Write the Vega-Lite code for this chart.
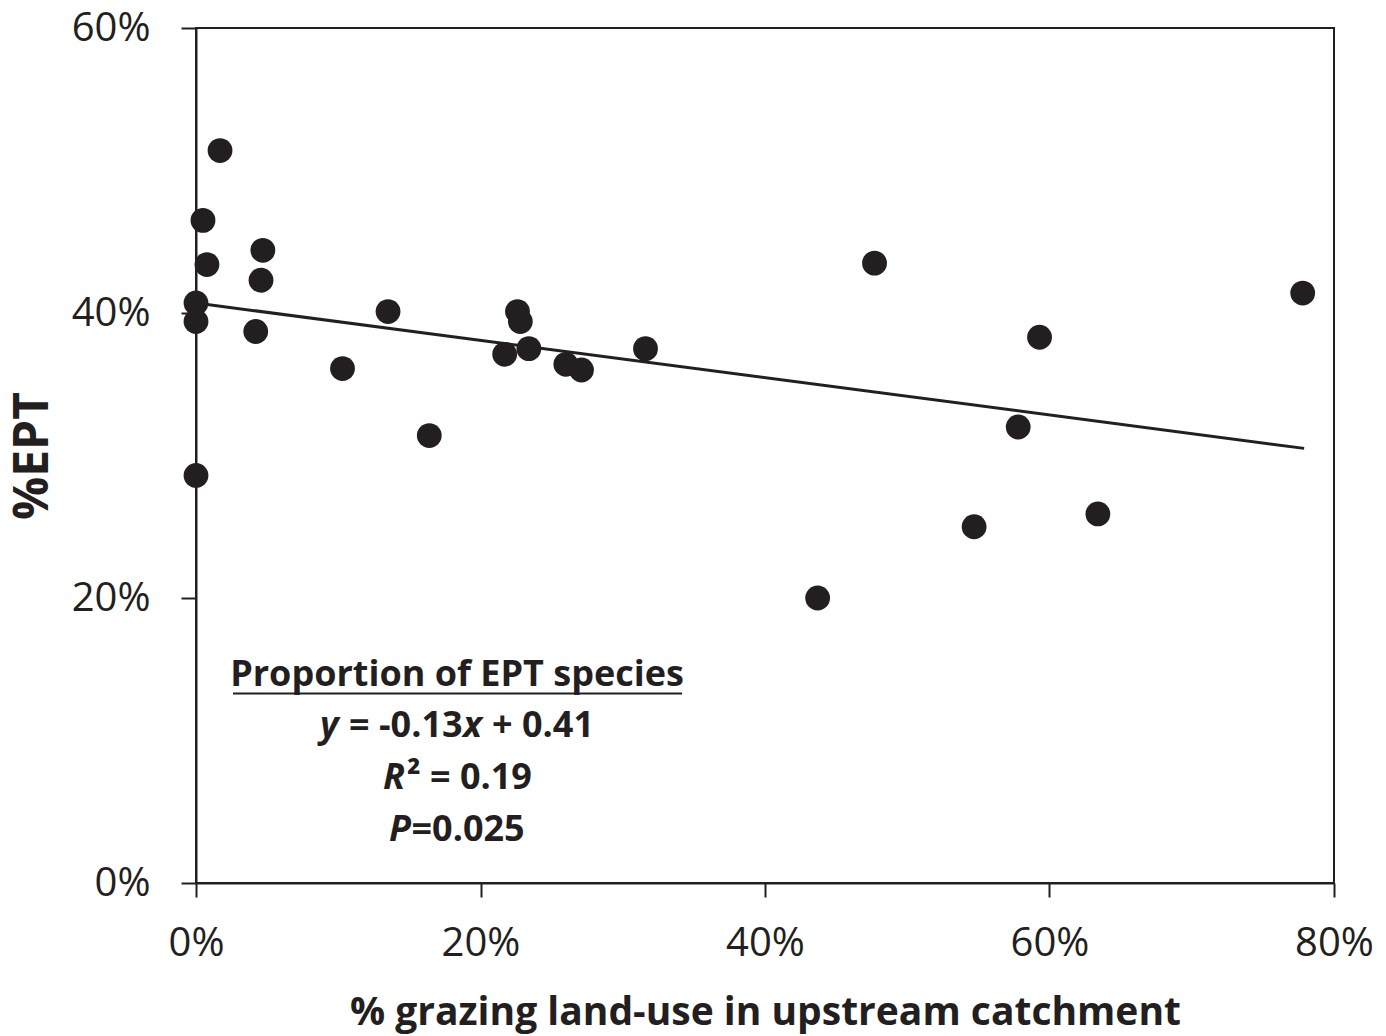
{
  "$schema": "https://vega.github.io/schema/vega-lite/v6.json",
  "width": 1138,
  "height": 855,
  "autosize": {"type": "none"},
  "padding": {"left": 196, "top": 28, "right": 52, "bottom": 153},
  "background": "white",
  "config": {
    "font": "Open Sans",
    "view": {"stroke": "#231f20", "strokeWidth": 2},
    "axis": {"grid": false, "domainColor": "#231f20", "domainWidth": 2, "tickColor": "#231f20", "tickWidth": 2, "labelColor": "#231f20", "titleColor": "#231f20", "labelFont": "Open Sans", "titleFont": "Open Sans", "labelFlush": false, "labelOverlap": false}
  },
  "datasets": {
    "sites": [
      {"grazing": 0.0169, "ept": 0.514},
      {"grazing": 0.0049, "ept": 0.465},
      {"grazing": 0.0077, "ept": 0.434},
      {"grazing": 0.047, "ept": 0.444},
      {"grazing": 0.0457, "ept": 0.423},
      {"grazing": 0.0, "ept": 0.407},
      {"grazing": 0.0, "ept": 0.394},
      {"grazing": 0.042, "ept": 0.387},
      {"grazing": 0.0, "ept": 0.286},
      {"grazing": 0.103, "ept": 0.361},
      {"grazing": 0.135, "ept": 0.401},
      {"grazing": 0.164, "ept": 0.314},
      {"grazing": 0.226, "ept": 0.401},
      {"grazing": 0.228, "ept": 0.394},
      {"grazing": 0.217, "ept": 0.371},
      {"grazing": 0.234, "ept": 0.375},
      {"grazing": 0.260, "ept": 0.364},
      {"grazing": 0.271, "ept": 0.360},
      {"grazing": 0.316, "ept": 0.375},
      {"grazing": 0.437, "ept": 0.200},
      {"grazing": 0.477, "ept": 0.435},
      {"grazing": 0.547, "ept": 0.250},
      {"grazing": 0.578, "ept": 0.320},
      {"grazing": 0.593, "ept": 0.383},
      {"grazing": 0.634, "ept": 0.259},
      {"grazing": 0.778, "ept": 0.414}
    ],
    "trend": [
      {"grazing": 0.0, "ept": 0.407},
      {"grazing": 0.779, "ept": 0.305}
    ]
  },
  "layer": [
    {
      "data": {"name": "trend"},
      "mark": {"type": "line", "color": "#231f20", "strokeWidth": 3, "clip": false},
      "encoding": {
        "x": {"field": "grazing", "type": "quantitative", "scale": {"domain": [0, 0.8], "nice": false}, "title": "% grazing land-use in upstream catchment",
          "axis": {"format": ".0%", "values": [0, 0.2, 0.4, 0.6, 0.8], "tickSize": 14, "labelFontSize": 40, "labelPadding": 26, "titleFontSize": 39, "titleFontWeight": "bold", "titlePadding": 30}},
        "y": {"field": "ept", "type": "quantitative", "scale": {"domain": [0, 0.6], "nice": false}, "title": "%EPT",
          "axis": {"format": ".0%", "values": [0, 0.2, 0.4, 0.6], "tickSize": 15, "labelFontSize": 40, "labelPadding": 31, "titleFontSize": 48, "titleFontWeight": "bold", "titlePadding": 14}}
      }
    },
    {
      "data": {"name": "sites"},
      "mark": {"type": "point", "filled": true, "opacity": 1, "color": "#231f20", "size": 615, "shape": "circle", "clip": false},
      "encoding": {
        "x": {"field": "grazing", "type": "quantitative"},
        "y": {"field": "ept", "type": "quantitative"}
      }
    },
    {
      "data": {"values": [{}]},
      "mark": {"type": "rule", "color": "#231f20", "strokeWidth": 2},
      "encoding": {
        "x": {"datum": 0.026, "type": "quantitative"},
        "x2": {"datum": 0.3417},
        "y": {"datum": 0.133, "type": "quantitative"}
      }
    },
    {
      "data": {"values": [{}]},
      "mark": {"type": "text", "text": "Proportion of EPT species", "fontSize": 36, "fontWeight": "bold", "align": "center", "baseline": "alphabetic", "color": "#231f20"},
      "encoding": {"x": {"datum": 0.1835, "type": "quantitative"}, "y": {"datum": 0.1383, "type": "quantitative"}}
    },
    {
      "data": {"values": [{}]},
      "mark": {"type": "text", "text": "y", "fontSize": 36, "fontWeight": "bold", "fontStyle": "italic", "align": "left", "baseline": "alphabetic", "color": "#231f20"},
      "encoding": {"x": {"datum": 0.0872, "type": "quantitative"}, "y": {"datum": 0.1025, "type": "quantitative"}}
    },
    {
      "data": {"values": [{}]},
      "mark": {"type": "text", "text": "= -0.13", "fontSize": 36, "fontWeight": "bold", "align": "left", "baseline": "alphabetic", "color": "#231f20"},
      "encoding": {"x": {"datum": 0.1076, "type": "quantitative"}, "y": {"datum": 0.1025, "type": "quantitative"}}
    },
    {
      "data": {"values": [{}]},
      "mark": {"type": "text", "text": "x", "fontSize": 36, "fontWeight": "bold", "fontStyle": "italic", "align": "left", "baseline": "alphabetic", "color": "#231f20"},
      "encoding": {"x": {"datum": 0.1877, "type": "quantitative"}, "y": {"datum": 0.1025, "type": "quantitative"}}
    },
    {
      "data": {"values": [{}]},
      "mark": {"type": "text", "text": "+ 0.41", "fontSize": 36, "fontWeight": "bold", "align": "left", "baseline": "alphabetic", "color": "#231f20"},
      "encoding": {"x": {"datum": 0.2081, "type": "quantitative"}, "y": {"datum": 0.1025, "type": "quantitative"}}
    },
    {
      "data": {"values": [{}]},
      "mark": {"type": "text", "text": "R", "fontSize": 36, "fontWeight": "bold", "fontStyle": "italic", "align": "left", "baseline": "alphabetic", "color": "#231f20"},
      "encoding": {"x": {"datum": 0.1315, "type": "quantitative"}, "y": {"datum": 0.0661, "type": "quantitative"}}
    },
    {
      "data": {"values": [{}]},
      "mark": {"type": "text", "text": "² = 0.19", "fontSize": 36, "fontWeight": "bold", "align": "left", "baseline": "alphabetic", "color": "#231f20"},
      "encoding": {"x": {"datum": 0.1483, "type": "quantitative"}, "y": {"datum": 0.0661, "type": "quantitative"}}
    },
    {
      "data": {"values": [{}]},
      "mark": {"type": "text", "text": "P", "fontSize": 36, "fontWeight": "bold", "fontStyle": "italic", "align": "left", "baseline": "alphabetic", "color": "#231f20"},
      "encoding": {"x": {"datum": 0.1357, "type": "quantitative"}, "y": {"datum": 0.0295, "type": "quantitative"}}
    },
    {
      "data": {"values": [{}]},
      "mark": {"type": "text", "text": "=0.025", "fontSize": 36, "fontWeight": "bold", "align": "left", "baseline": "alphabetic", "color": "#231f20"},
      "encoding": {"x": {"datum": 0.1515, "type": "quantitative"}, "y": {"datum": 0.0295, "type": "quantitative"}}
    }
  ]
}
